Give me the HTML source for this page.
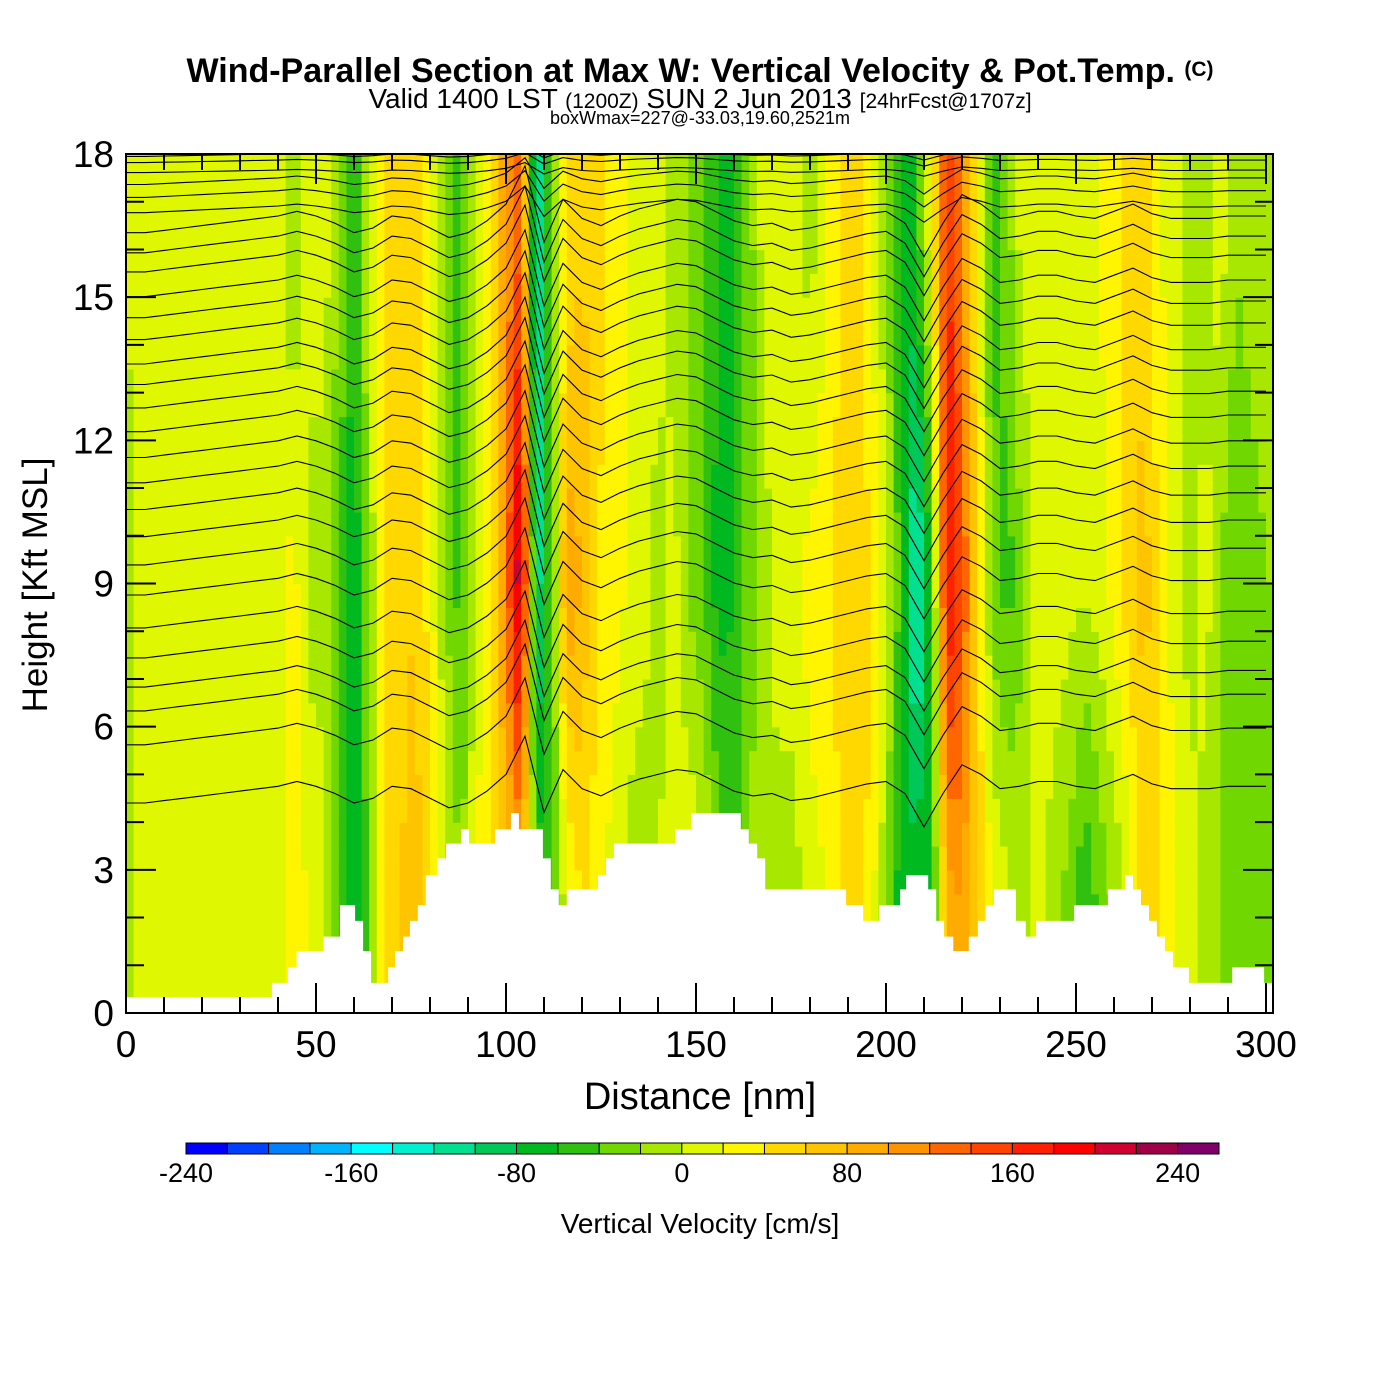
<!DOCTYPE html>
<html><head><meta charset="utf-8">
<style>
html,body{margin:0;padding:0;background:#fff;}
svg{display:block;font-family:"Liberation Sans",sans-serif;}
</style></head>
<body>
<svg id="chart" width="1400" height="1400" viewBox="0 0 1400 1400">
  <text x="700" y="82" text-anchor="middle" font-size="34" font-weight="bold">Wind-Parallel Section at Max W: Vertical Velocity &amp; Pot.Temp. <tspan font-size="21" dy="-6">(C)</tspan></text>
  <text x="700" y="108" text-anchor="middle" font-size="28">Valid 1400 LST <tspan font-size="21">(1200Z)</tspan> SUN 2 Jun 2013 <tspan font-size="21">[24hrFcst@1707z]</tspan></text>
  <text x="700" y="124" text-anchor="middle" font-size="18">boxWmax=227@-33.03,19.60,2521m</text>
  <defs>
    <clipPath id="plotClip"><rect x="126" y="154" width="1147" height="859"/></clipPath>
    <clipPath id="airClip"><path id="airPath" d=""/></clipPath>
  </defs>
  <g id="heat" clip-path="url(#plotClip)"></g>
  <path id="terrain" fill="#fff" stroke="none"/>
  <g id="contours" clip-path="url(#airClip)"></g>
  <g id="axes"></g>
  <g id="cbar"></g>
  <text x="700" y="1109" text-anchor="middle" font-size="38">Distance [nm]</text>
  <text transform="translate(47,585) rotate(-90)" text-anchor="middle" font-size="35">Height [Kft MSL]</text>
  <text x="700" y="1233" text-anchor="middle" font-size="28">Vertical Velocity [cm/s]</text>
</svg>
<script>
// ---------- data ----------
const gridStepNm = 4;
const levelHeights = [2, 9, 16]; // kft
const wLow = [-20,10,10,10,10,10,10,10,10,10,10,30,20,10,-40,-80,-30,40,60,70,50,10,-20,30,40,60,80,-40,-60,10,40,30,10,-10,-20,0,10,20,10,-30,-50,-20,0,-10,-10,10,20,40,60,30,-20,-80,-60,-60,80,100,60,20,10,-10,10,-10,-30,-60,-40,-20,10,50,40,20,10,-10,-20,-30,-30,-40,-40];
const wMid = [-30,10,10,10,10,10,10,10,10,10,10,30,-10,-10,-40,-80,-20,40,50,60,30,-20,-50,-10,40,120,230,-120,-40,100,80,40,30,20,10,-10,10,-20,-40,-70,-60,-30,-10,10,10,30,30,50,60,40,10,-50,-140,-60,190,150,50,-30,-50,-20,10,10,10,0,10,30,50,70,40,10,-10,10,-20,-40,-30,-20,-20];
const wHigh = [10,10,10,10,10,10,10,10,10,10,10,-20,10,10,-20,-60,10,40,60,50,30,-30,-50,-10,30,100,150,-150,-30,40,60,50,30,20,10,10,-10,-20,-40,-60,-70,-30,10,20,10,-10,20,40,50,20,-20,-70,-60,20,170,110,30,-50,-30,10,10,20,10,10,20,30,60,50,20,10,-10,-10,10,-20,-10,-10,-10];
const terrainX = [0,38.4,42.6,44.9,52,56.3,60.3,62.4,64.5,69,70.8,72.9,74.7,76.8,78.9,82,84.2,88.2,90.3,97.1,101.3,103.4,109.7,111.8,113.9,116,124.2,126.3,128.4,131.6,144.5,148.7,161.8,163.9,166.1,168.2,170.3,189.5,194,198.2,203.7,205.3,211.1,213.2,215.3,217.7,221.8,224.2,226.3,228.4,234.2,236.8,239.5,247.9,249.5,258.4,262.9,265,267.1,269.2,271.3,273.4,275.5,279.7,291.1,299.5,303.7];
const terrainH = [0.33,0.63,0.96,1.3,1.6,2.26,1.93,1.3,0.63,0.96,1.3,1.6,1.93,2.26,2.89,3.24,3.55,3.85,3.55,3.85,4.19,3.85,3.24,2.59,2.26,2.59,2.89,3.24,3.55,3.55,3.85,4.19,3.85,3.55,3.24,2.59,2.59,2.26,1.93,2.26,2.59,2.89,2.59,1.93,1.6,1.3,1.6,1.93,2.26,2.59,1.93,1.6,1.93,1.93,2.26,2.59,2.89,2.59,2.26,1.93,1.6,1.3,0.96,0.63,0.96,0.63,0.96];
const contourBase = [17.95,17.82,17.61,17.36,17.09,16.77,16.35,15.93,15.53,15.01,14.57,14.11,13.6,13.17,12.68,12.18,11.64,11.11,10.55,9.98,9.39,8.76,8.07,7.44,6.83,6.33,5.62,4.4];
const perturbStepNm = 5;
const contourPerturb = [0,0,0.05,0.1,0.15,0.2,0.25,0.3,0.35,0.45,0.35,0.2,0,0.1,0.35,0.3,0.1,-0.1,0,0.25,0.6,1.4,-0.2,0.7,0.3,0.15,0.35,0.5,0.6,0.7,0.65,0.45,0.25,0.15,0.2,0.05,0.1,0.2,0.3,0.4,0.45,0.2,-0.5,0.2,0.8,0.6,0.3,0.35,0.45,0.45,0.35,0.3,0.45,0.6,0.4,0.3,0.3,0.3,0.35,0.35,0.35];
const cbarEdges = [-240,-220,-200,-180,-160,-140,-120,-100,-80,-60,-40,-20,0,20,40,60,80,100,120,140,160,180,200,220,240,260];
const cbarColors = ["#0000ff","#0040ff","#0080ff","#00b4ff","#00ffff","#00f0d0","#00e090","#00c858","#00b820","#30c010","#70d800","#a8e800","#dff700","#fff500","#ffd800","#ffc400","#ffab00","#ff9400","#ff6600","#ff4400","#ff2000","#ff0000","#d00030","#a00048","#800068"];
const cbarTickLabels = [-240,-160,-80,0,80,160,240];
const xTickLabels = [0,50,100,150,200,250,300];
const yTickLabels = [0,3,6,9,12,15,18];

// ---------- scales ----------
const X0=126, X1=1273, Y0=1013, Y1=154;
const xs = nm => X0 + nm*3.8;
const ys = k => Y0 - k*(Y0-Y1)/18;
const NS="http://www.w3.org/2000/svg";
function mk(tag, attrs, parent){const e=document.createElementNS(NS,tag);for(const k in attrs)e.setAttribute(k,attrs[k]);parent.appendChild(e);return e;}
function colorFor(v){let i=Math.floor((v-cbarEdges[0])/20);i=Math.max(0,Math.min(cbarColors.length-1,i));return cbarColors[i];}
function colVal(arr, nm){const f=nm/gridStepNm;const i=Math.floor(f);const t=f-i;const a=arr[Math.min(i,arr.length-1)],b=arr[Math.min(i+1,arr.length-1)];return a+(b-a)*t;}
function wAt(nm,k){
  const lo=colVal(wLow,nm),mi=colVal(wMid,nm),hi=colVal(wHigh,nm);
  if(k<=levelHeights[0])return lo;
  if(k<=levelHeights[1]){const t=(k-levelHeights[0])/(levelHeights[1]-levelHeights[0]);return lo+(mi-lo)*t;}
  if(k<=levelHeights[2]){const t=(k-levelHeights[1])/(levelHeights[2]-levelHeights[1]);return mi+(hi-mi)*t;}
  return hi;
}

// ---------- heatmap ----------
const heat=document.getElementById('heat');
const dx=2, dk=0.5;
for(let nm=0; nm<302; nm+=dx){
  for(let k=0;k<18;k+=dk){
    const v=wAt(nm+dx/2,k+dk/2);
    const r=mk('rect',{x:xs(nm).toFixed(1),y:ys(k+dk).toFixed(1),width:(dx*3.8+0.6).toFixed(1),height:(dk*47.72+0.6).toFixed(1),fill:colorFor(v)},heat);
    
    
  }
}

// ---------- terrain ----------
let segs="";
for(let i=0;i<terrainX.length;i++){
  const x0=xs(terrainX[i]), x1=xs(i+1<terrainX.length?terrainX[i+1]:302);
  const y=ys(terrainH[i]);
  segs+=`L${x0.toFixed(1)},${y.toFixed(1)} L${Math.min(x1,X1).toFixed(1)},${y.toFixed(1)} `;
}
document.getElementById('terrain').setAttribute('d',`M${xs(0)},${Y0} `+segs+`L${X1},${Y0} Z`);
document.getElementById('airPath').setAttribute('d',`M${X0},${Y1} `+segs+`L${X1},${Y1} Z`);

// ---------- contours ----------
const cont=document.getElementById('contours');
contourBase.forEach((b)=>{
  let d="";
  const amp = b>17.5 ? 0.15 : (b>16.5 ? 0.4 : 1);
  for(let j=0;j<contourPerturb.length;j++){
    const nm=j*perturbStepNm;
    const k=b+contourPerturb[j]*amp;
    d+=(j?"L":"M")+xs(nm).toFixed(1)+","+ys(k).toFixed(1)+" ";
  }
  const p=mk('path',{d:d,fill:"none",stroke:"#000","stroke-width":1.1},cont);
  
  
});

// ---------- axes ----------
const ax=document.getElementById('axes');
const frame=mk('rect',{x:X0,y:Y1,width:X1-X0,height:Y0-Y1,fill:"none",stroke:"#000","stroke-width":2},ax);


for(let nm=0;nm<=300;nm+=10){
  const major=nm%50===0, L=major?30:16, x=xs(nm);
  mk('line',{x1:x,y1:Y0,x2:x,y2:Y0-L,stroke:"#000","stroke-width":2},ax);
  mk('line',{x1:x,y1:Y1,x2:x,y2:Y1+L,stroke:"#000","stroke-width":2},ax);
}
for(let k=0;k<=18;k++){
  const major=k%3===0, L=major?30:18, y=ys(k);
  mk('line',{x1:X0,y1:y,x2:X0+L,y2:y,stroke:"#000","stroke-width":2},ax);
  mk('line',{x1:X1,y1:y,x2:X1-L,y2:y,stroke:"#000","stroke-width":2},ax);
}
xTickLabels.forEach(v=>{
  const t=mk('text',{x:xs(v),y:1057,"text-anchor":"middle","font-size":37},ax);
  t.textContent=v;
  
  
});
yTickLabels.forEach(v=>{
  const t=mk('text',{x:114,y:ys(v)+13,"text-anchor":"end","font-size":37},ax);
  t.textContent=v;
  
  
});

// ---------- colorbar ----------
const cb=document.getElementById('cbar');
const CB0=186, CB1=1219, cbY=1143, cbH=11;
const cbx=v=>CB0+(v-cbarEdges[0])/(cbarEdges[cbarEdges.length-1]-cbarEdges[0])*(CB1-CB0);
cbarColors.forEach((c,i)=>{
  const r=mk('rect',{x:cbx(cbarEdges[i]),y:cbY,width:cbx(cbarEdges[i+1])-cbx(cbarEdges[i]),height:cbH,fill:c,stroke:"#000","stroke-width":1},cb);
  
  
});
cbarTickLabels.forEach(v=>{
  const t=mk('text',{x:cbx(v),y:1182,"text-anchor":"middle","font-size":27},cb);
  t.textContent=v;
  
  
});
</script>
</body></html>
